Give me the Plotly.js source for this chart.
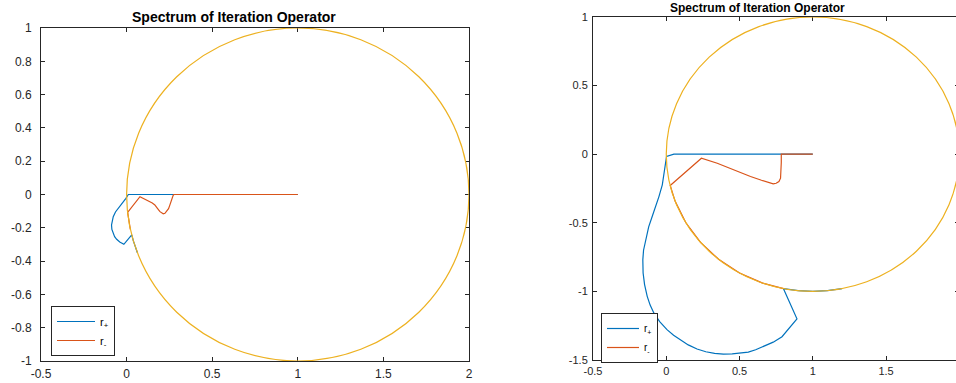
<!DOCTYPE html>
<html>
<head>
<meta charset="utf-8">
<script src="https://cdn.plot.ly/plotly-3.0.1.min.js"></script>
<style>
  html, body { margin: 0; padding: 0; overflow: hidden; background: #fff; }
  #chart { width: 962px; height: 383px; }
</style>
</head>
<body>
<div id="chart"></div>
<script>
// ---- Data ----
// Left panel
const leftPlusX  = [1, 0.5, 0.01, -0.004, -0.02, -0.049, -0.065, -0.078, -0.085, -0.088, -0.086, -0.078, -0.07, -0.058, -0.04, -0.016, 0.03, 0.04, 0.053, 0.063];
const leftPlusY  = [0, 0, 0, -0.023, -0.043, -0.083, -0.105, -0.133, -0.158, -0.183, -0.21, -0.233, -0.253, -0.269, -0.285, -0.299, -0.243, -0.28, -0.32, -0.35];
const leftMinusX = [1, 0.5, 0.276, 0.272, 0.266, 0.259, 0.252, 0.245, 0.234, 0.224, 0.214, 0.204, 0.195, 0.18, 0.165, 0.15, 0.136, 0.117, 0.098, 0.078, 0.006, 0.013, 0.022];
const leftMinusY = [0, 0, 0, -0.005, -0.02, -0.043, -0.065, -0.085, -0.103, -0.113, -0.116, -0.111, -0.103, -0.083, -0.063, -0.051, -0.043, -0.033, -0.022, -0.013, -0.107, -0.16, -0.21];

// Right panel
const rightPlusX  = [1, 0.5, 0.052, 0.002, -0.016, -0.027, -0.05, -0.075, -0.096, -0.12, -0.141, -0.155, -0.16, -0.158, -0.148, -0.13, -0.11, -0.085, -0.045, 0.005, 0.05, 0.098, 0.15, 0.21, 0.27, 0.33, 0.39, 0.45, 0.51, 0.56, 0.61, 0.666, 0.73, 0.79, 0.892, 0.8, 0.9, 1.0, 1.1, 1.2];
const rightPlusY  = [0, 0, 0, -0.017, -0.138, -0.223, -0.309, -0.38, -0.454, -0.53, -0.62, -0.7, -0.77, -0.866, -0.95, -1.036, -1.1, -1.157, -1.22, -1.279, -1.32, -1.355, -1.39, -1.42, -1.44, -1.452, -1.457, -1.456, -1.45, -1.442, -1.425, -1.4, -1.37, -1.33, -1.2, -0.98, -0.995, -1.0, -0.995, -0.98];
const rightMinusX = [1, 0.785, 0.785, 0.783, 0.78, 0.769, 0.75, 0.73, 0.7, 0.65, 0.575, 0.461, 0.348, 0.24, 0.027, 0.06, 0.134, 0.234, 0.357, 0.5, 0.658, 0.8];
const rightMinusY = [0, 0, -0.06, -0.13, -0.175, -0.199, -0.212, -0.216, -0.208, -0.19, -0.163, -0.114, -0.066, -0.029, -0.228, -0.342, -0.5, -0.643, -0.766, -0.866, -0.94, -0.98];

// Reference circle: centre 1, radius 1 (bounding box)
const circleBox = {x0: 0, x1: 2, y0: -1, y1: 1};

// Ticks
const leftXTicks  = [-0.5, 0, 0.5, 1, 1.5, 2];
const leftXText   = ['-0.5', '0', '0.5', '1', '1.5', '2'];
const leftYTicks  = [-1, -0.8, -0.6, -0.4, -0.2, 0, 0.2, 0.4, 0.6, 0.8, 1];
const leftYText   = ['-1', '-0.8', '-0.6', '-0.4', '-0.2', '0', '0.2', '0.4', '0.6', '0.8', '1'];
const rightXTicks = [-0.5, 0, 0.5, 1, 1.5, 2];
const rightXText  = ['-0.5', '0', '0.5', '1', '1.5', '2'];
const rightYTicks = [-1.5, -1, -0.5, 0, 0.5, 1];
const rightYText  = ['-1.5', '-1', '-0.5', '0', '0.5', '1'];

const titleText = 'Spectrum of Iteration Operator';
const namePlus = 'r<sub>+</sub>';
const nameMinus = 'r<sub>-</sub>';

// ---- Styling ----
const W = 962, H = 383;
const BLUE = '#0072BD', RED = '#D95319', YELLOW = '#EDB120', AX = '#262626';
const FONT = 'Liberation Sans, Arial, Helvetica, sans-serif';

function px(x) { return x / W; }
function py(y) { return 1 - y / H; }

const traces = [
  {x: leftPlusX, y: leftPlusY, type: 'scatter', mode: 'lines', name: namePlus,
   line: {color: BLUE, width: 1.2}, xaxis: 'x', yaxis: 'y', legend: 'legend'},
  {x: leftMinusX, y: leftMinusY, type: 'scatter', mode: 'lines', name: nameMinus,
   line: {color: RED, width: 1.2}, xaxis: 'x', yaxis: 'y', legend: 'legend'},
  {x: rightPlusX, y: rightPlusY, type: 'scatter', mode: 'lines', name: namePlus,
   line: {color: BLUE, width: 1.2}, xaxis: 'x2', yaxis: 'y2', legend: 'legend2'},
  {x: rightMinusX, y: rightMinusY, type: 'scatter', mode: 'lines', name: nameMinus,
   line: {color: RED, width: 1.2}, xaxis: 'x2', yaxis: 'y2', legend: 'legend2'}
];

function axisBase(size, standoff) {
  return {
    ticks: 'inside', ticklen: 4, tickwidth: 1, tickcolor: AX,
    showline: true, linecolor: AX, linewidth: 1, mirror: 'ticks',
    showgrid: false, zeroline: false,
    tickfont: {family: FONT, size: size, color: AX},
    ticklabelstandoff: standoff,
    fixedrange: true
  };
}

const layout = {
  width: W, height: H,
  margin: {l: 0, r: 0, t: 0, b: 0},
  paper_bgcolor: '#fff', plot_bgcolor: '#fff',
  showlegend: true,
  xaxis: Object.assign(axisBase(12, 2), {
    domain: [px(41), px(469)], range: [-0.5, 2], anchor: 'y',
    tickmode: 'array', tickvals: leftXTicks, ticktext: leftXText
  }),
  yaxis: Object.assign(axisBase(12, 6), {
    domain: [1 - 361 / H, 1 - 28 / H], range: [-1, 1], anchor: 'x',
    tickmode: 'array', tickvals: leftYTicks, ticktext: leftYText
  }),
  xaxis2: Object.assign(axisBase(11, 1), {
    domain: [px(593), px(959.3)], range: [-0.5, 2], anchor: 'y2',
    tickmode: 'array', tickvals: rightXTicks, ticktext: rightXText
  }),
  yaxis2: Object.assign(axisBase(11, 2), {
    domain: [1 - 360 / H, 1 - 17 / H], range: [-1.5, 1], anchor: 'x2',
    tickmode: 'array', tickvals: rightYTicks, ticktext: rightYText
  }),
  legend: {
    x: px(51), y: py(306), xanchor: 'left', yanchor: 'top',
    bgcolor: '#fff', bordercolor: AX, borderwidth: 1,
    font: {family: FONT, size: 11, color: '#000'},
    itemwidth: 38, tracegroupgap: 0
  },
  legend2: {
    x: px(601), y: py(313), xanchor: 'left', yanchor: 'top',
    bgcolor: '#fff', bordercolor: AX, borderwidth: 1,
    font: {family: FONT, size: 10, color: '#000'},
    itemwidth: 32, tracegroupgap: 0
  },
  shapes: [
    Object.assign({type: 'circle', xref: 'x', yref: 'y', layer: 'above',
      line: {color: YELLOW, width: 1.2}}, circleBox),
    Object.assign({type: 'circle', xref: 'x2', yref: 'y2', layer: 'above',
      line: {color: YELLOW, width: 1.2}}, circleBox)
  ],
  annotations: [
    {text: '<b>' + titleText + '</b>', xref: 'paper', yref: 'paper',
     x: px(233.5), y: py(17), xanchor: 'center', yanchor: 'middle', showarrow: false,
     font: {family: FONT, size: 14, color: '#000'}},
    {text: '<b>' + titleText + '</b>', xref: 'paper', yref: 'paper',
     x: px(757.5), y: py(8), xanchor: 'center', yanchor: 'middle', showarrow: false,
     font: {family: FONT, size: 12, color: '#000'}}
  ]
};

Plotly.newPlot('chart', traces, layout, {staticPlot: true, displayModeBar: false});
</script>
</body>
</html>
